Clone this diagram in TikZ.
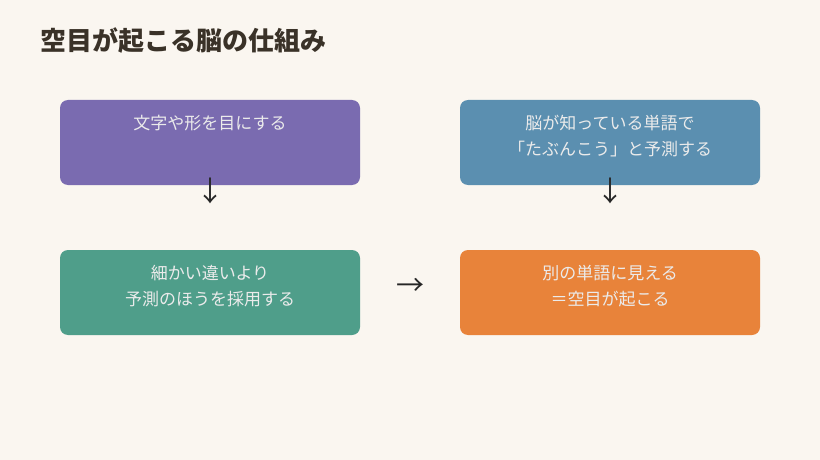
\documentclass[tikz,border=0pt]{standalone}
\usepackage{fontspec}
\setmainfont{Noto Sans CJK JP}
\newfontfamily\jpbold{Noto Sans CJK JP}[BoldFont={* Bold}]
\begin{document}
\begin{tikzpicture}[x=1pt,y=-1pt,
  box/.style={rounded corners=8pt},
  lbl/.style={text=white!92!black,font=\fontsize{17}{26}\selectfont,align=center,anchor=north,inner sep=0pt},
  arr/.style={font=\fontsize{28}{28}\selectfont,text=black!85,inner sep=0pt}]
\definecolor{bg}{HTML}{FAF6F0}
\definecolor{cp}{HTML}{7A6BB0}
\definecolor{cb}{HTML}{5B8FB0}
\definecolor{cg}{HTML}{4F9E8A}
\definecolor{co}{HTML}{E8833A}
\definecolor{tt}{HTML}{3A3228}
\fill[bg] (0,0) rectangle (820,460);
\useasboundingbox (0,0) rectangle (820,460);
\node[anchor=west,inner sep=0pt,text=tt,font=\fontsize{26}{26}\selectfont\bfseries] (title) at (40,41) {空目が起こる脳の仕組み};
\fill[cp,box] (60,100) rectangle (360,185);
\fill[cb,box] (460,100) rectangle (760,185);
\fill[cg,box] (60,250) rectangle (360,335);
\fill[co,box] (460,250) rectangle (760,335);
\node[lbl] (t1) at (210,115) {文字や形を目にする};
\node[lbl] (t2) at (610,115) {脳が知っている単語で\\「たぶんこう」と予測する};
\node[lbl] (t3) at (210,265) {細かい違いより\\予測のほうを採用する};
\node[lbl] (t4) at (610,265) {別の単語に見える\\＝空目が起こる};
\node[arr] (a1) at (210,191) {↓};
\node[arr] (a2) at (610,191) {↓};
\node[arr] (a3) at (410,287) {→};
\end{tikzpicture}
\end{document}
